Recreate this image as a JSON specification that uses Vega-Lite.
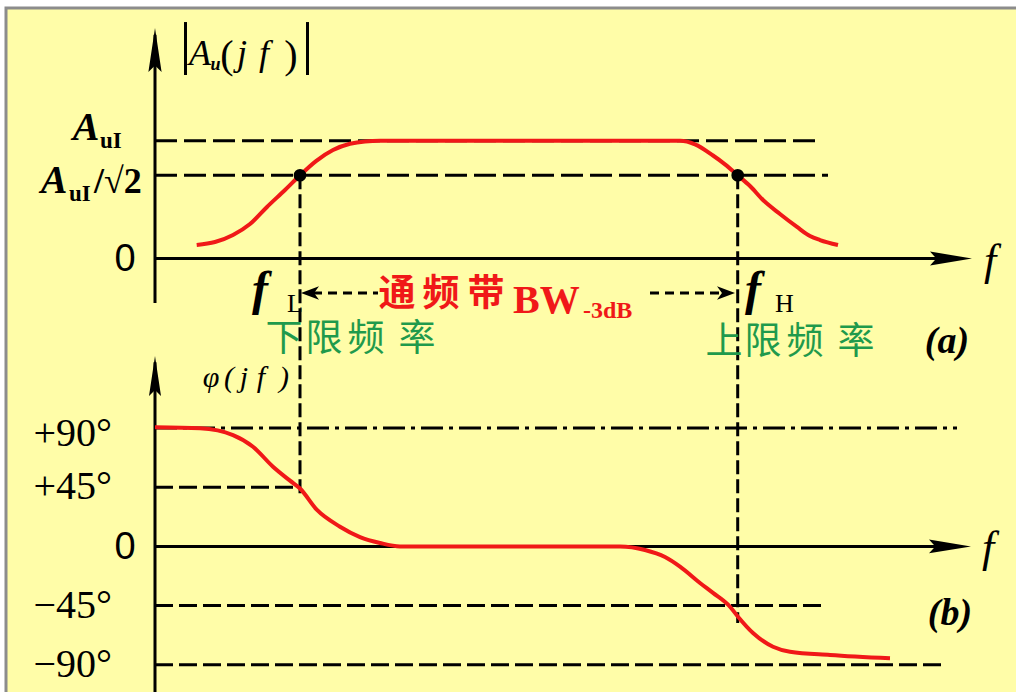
{
  "$schema": "https://vega.github.io/schema/vega-lite/v6.json",
  "width": 1013,
  "height": 687,
  "autosize": {"type": "none"},
  "padding": {"left": 6, "top": 8, "right": 0, "bottom": 0},
  "background": "#ffffff",
  "config": {"view": {"fill": "#FFFDA8", "stroke": "#8c8c8c", "strokeWidth": 3}},
  "resolve": {"scale": {"y": "independent"}},
  "layer": [
    {
      "encoding": {
        "x": {"field": "u", "type": "quantitative", "scale": {"domain": [-14.9, 86.4], "nice": false, "zero": false}, "axis": null},
        "y": {"field": "g", "type": "quantitative", "scale": {"domain": [-3.7086, 2.1283], "nice": false, "zero": false}, "axis": null}
      },
      "layer": [
        {
          "data": {"values": [
            {"name": "gain axis", "u": 0, "u2": 0, "g": -0.378, "g2": 1.9},
            {"name": "frequency axis", "u": 0, "u2": 80.5, "g": 0, "g2": 0},
            {"name": "abs left", "u": 3.05, "u2": 3.05, "g": 2.009, "g2": 1.559},
            {"name": "abs right", "u": 15.25, "u2": 15.25, "g": 2.009, "g2": 1.559}
          ]},
          "mark": {"type": "rule", "color": "#000000", "strokeWidth": 3},
          "encoding": {"x2": {"field": "u2"}, "y2": {"field": "g2"}}
        },
        {
          "data": {"values": [
            {"name": "AuI", "u": 0, "u2": 66.5, "g": 1, "g2": 1},
            {"name": "AuI/sqrt2", "u": 0, "u2": 67.3, "g": 0.707, "g2": 0.707}
          ]},
          "mark": {"type": "rule", "color": "#000000", "strokeWidth": 3, "strokeDash": [22, 7]},
          "encoding": {"x2": {"field": "u2"}, "y2": {"field": "g2"}}
        },
        {
          "data": {"values": [
            {"name": "fL", "u": 14.5, "u2": 14.5, "g": 0.707, "g2": -2.009},
            {"name": "fH", "u": 58.27, "u2": 58.27, "g": 0.707, "g2": -3.097}
          ]},
          "mark": {"type": "rule", "color": "#000000", "strokeWidth": 3, "strokeDash": [14, 5]},
          "encoding": {"x2": {"field": "u2"}, "y2": {"field": "g2"}}
        },
        {
          "data": {"values": [
            {"name": "band left", "u": 15.8, "u2": 22.3, "g": -0.293, "g2": -0.293},
            {"name": "band right", "u": 49.5, "u2": 56.9, "g": -0.293, "g2": -0.293}
          ]},
          "mark": {"type": "rule", "color": "#000000", "strokeWidth": 3, "strokeDash": [9, 6]},
          "encoding": {"x2": {"field": "u2"}, "y2": {"field": "g2"}}
        },
        {
          "data": {"values": [
            {"u": 4.17, "g": 0.115}, {"u": 6.0, "g": 0.14}, {"u": 7.8, "g": 0.2}, {"u": 9.5, "g": 0.293},
            {"u": 11.2, "g": 0.438}, {"u": 13.0, "g": 0.582}, {"u": 14.5, "g": 0.707}, {"u": 16.1, "g": 0.828},
            {"u": 17.8, "g": 0.922}, {"u": 19.5, "g": 0.975}, {"u": 21.0, "g": 0.995}, {"u": 22.5, "g": 1.0},
            {"u": 52.5, "g": 1.0}, {"u": 54.0, "g": 0.97}, {"u": 55.8, "g": 0.875}, {"u": 57.0, "g": 0.8},
            {"u": 58.27, "g": 0.707}, {"u": 59.5, "g": 0.616}, {"u": 60.8, "g": 0.497}, {"u": 62.5, "g": 0.378},
            {"u": 64.2, "g": 0.268}, {"u": 65.5, "g": 0.191}, {"u": 66.5, "g": 0.157}, {"u": 68.3, "g": 0.115}
          ]},
          "mark": {"type": "line", "color": "#F01818", "strokeWidth": 4, "interpolate": "monotone"}
        },
        {
          "data": {"values": [{"u": 14.5, "g": 0.707}, {"u": 58.27, "g": 0.707}]},
          "mark": {"type": "circle", "color": "#000000", "size": 160, "opacity": 1}
        },
        {
          "data": {"values": [{"u": 0, "g": 1.771}]},
          "mark": {"type": "point", "shape": "M0,-1L0.3,1L0,0.7L-0.3,1Z", "size": 1936, "filled": true, "color": "#000000", "opacity": 1, "strokeWidth": 0}
        },
        {
          "data": {"values": [{"u": 79.6, "g": 0}]},
          "mark": {"type": "point", "shape": "M1,0L-1,-0.33L-0.7,0L-1,0.33Z", "size": 1764, "filled": true, "color": "#000000", "opacity": 1, "strokeWidth": 0}
        },
        {
          "data": {"values": [{"u": 15.5, "g": -0.293}]},
          "mark": {"type": "point", "shape": "M-1,0L1,-0.75L0.45,0L1,0.75Z", "size": 324, "filled": true, "color": "#000000", "opacity": 1, "strokeWidth": 0}
        },
        {
          "data": {"values": [{"u": 57.1, "g": -0.293}]},
          "mark": {"type": "point", "shape": "M1,0L-1,-0.75L-0.45,0L-1,0.75Z", "size": 324, "filled": true, "color": "#000000", "opacity": 1, "strokeWidth": 0}
        },
        {
          "data": {"values": [{"t": "A", "u": 4.5, "g": 1.644}, {"t": "j", "u": 8.7, "g": 1.644}, {"t": "f", "u": 10.9, "g": 1.644}]},
          "mark": {"type": "text", "font": "Liberation Serif", "fontSize": 36, "fontStyle": "italic", "align": "center", "baseline": "alphabetic", "color": "#000000"},
          "encoding": {"text": {"field": "t"}}
        },
        {
          "data": {"values": [{"t": "(", "u": 7.2, "g": 1.62}, {"t": ")", "u": 13.6, "g": 1.62}]},
          "mark": {"type": "text", "font": "Liberation Serif", "fontSize": 40, "align": "center", "baseline": "alphabetic", "color": "#000000"},
          "encoding": {"text": {"field": "t"}}
        },
        {
          "data": {"values": [{"t": "u", "u": 5.55, "g": 1.6}]},
          "mark": {"type": "text", "font": "Liberation Serif", "fontSize": 18, "fontStyle": "italic", "fontWeight": "bold", "align": "left", "baseline": "alphabetic", "color": "#000000"},
          "encoding": {"text": {"field": "t"}}
        },
        {
          "data": {"values": [{"t": "A", "u": -6.9, "g": 1.007}, {"t": "A", "u": -10.1, "g": 0.556}]},
          "mark": {"type": "text", "font": "Liberation Serif", "fontSize": 40, "fontStyle": "italic", "fontWeight": "bold", "align": "center", "baseline": "alphabetic", "color": "#000000"},
          "encoding": {"text": {"field": "t"}}
        },
        {
          "data": {"values": [{"t": "uI", "u": -5.5, "g": 0.939}, {"t": "uI", "u": -8.6, "g": 0.489}]},
          "mark": {"type": "text", "font": "Liberation Serif", "fontSize": 23, "fontWeight": "bold", "align": "left", "baseline": "alphabetic", "color": "#000000"},
          "encoding": {"text": {"field": "t"}}
        },
        {
          "data": {"values": [{"t": "/√2", "u": -6.1, "g": 0.556}]},
          "mark": {"type": "text", "font": "Liberation Serif", "fontSize": 36, "fontWeight": "bold", "align": "left", "baseline": "alphabetic", "color": "#000000"},
          "encoding": {"text": {"field": "t"}}
        },
        {
          "data": {"values": [{"t": "0", "u": -3.0, "g": -0.013}]},
          "mark": {"type": "text", "font": "Liberation Sans", "fontSize": 38, "align": "center", "baseline": "middle", "color": "#000000"},
          "encoding": {"text": {"field": "t"}}
        },
        {
          "data": {"values": [{"t": "f", "u": 83.5, "g": -0.14}]},
          "mark": {"type": "text", "font": "Liberation Serif", "fontSize": 44, "fontStyle": "italic", "align": "center", "baseline": "alphabetic", "color": "#000000"},
          "encoding": {"text": {"field": "t"}}
        },
        {
          "data": {"values": [{"t": "f", "u": 10.5, "g": -0.395}, {"t": "f", "u": 59.8, "g": -0.395}]},
          "mark": {"type": "text", "font": "Liberation Serif", "fontSize": 48, "fontStyle": "italic", "fontWeight": "bold", "align": "center", "baseline": "alphabetic", "color": "#000000"},
          "encoding": {"text": {"field": "t"}}
        },
        {
          "data": {"values": [{"t": "L", "u": 13.2, "g": -0.455}, {"t": "H", "u": 62.0, "g": -0.455}]},
          "mark": {"type": "text", "font": "Liberation Serif", "fontSize": 26, "align": "left", "baseline": "alphabetic", "color": "#000000"},
          "encoding": {"text": {"field": "t"}}
        },
        {
          "data": {"values": [{"t": "通", "u": 24.2, "g": -0.31}, {"t": "频", "u": 28.6, "g": -0.31}, {"t": "带", "u": 33.1, "g": -0.31}]},
          "mark": {"type": "text", "font": "Noto Sans CJK SC", "fontSize": 37, "fontWeight": "bold", "align": "center", "baseline": "middle", "color": "#F01818"},
          "encoding": {"text": {"field": "t"}}
        },
        {
          "data": {"values": [{"t": "BW", "u": 35.8, "g": -0.463}]},
          "mark": {"type": "text", "font": "Liberation Serif", "fontSize": 40, "fontWeight": "bold", "align": "left", "baseline": "alphabetic", "color": "#F01818"},
          "encoding": {"text": {"field": "t"}}
        },
        {
          "data": {"values": [{"t": "-3dB", "u": 42.8, "g": -0.506}]},
          "mark": {"type": "text", "font": "Liberation Serif", "fontSize": 24, "fontWeight": "bold", "align": "left", "baseline": "alphabetic", "color": "#F01818"},
          "encoding": {"text": {"field": "t"}}
        },
        {
          "data": {"values": [
            {"t": "下", "u": 12.9, "g": -0.69}, {"t": "限", "u": 16.9, "g": -0.69}, {"t": "频", "u": 21.1, "g": -0.69}, {"t": "率", "u": 26.2, "g": -0.69},
            {"t": "上", "u": 56.9, "g": -0.715}, {"t": "限", "u": 60.8, "g": -0.715}, {"t": "频", "u": 65.0, "g": -0.715}, {"t": "率", "u": 70.1, "g": -0.715}
          ]},
          "mark": {"type": "text", "font": "Noto Sans CJK SC", "fontSize": 37, "align": "center", "baseline": "middle", "color": "#1F9A4C"},
          "encoding": {"text": {"field": "t"}}
        },
        {
          "data": {"values": [{"t": "(a)", "u": 79.2, "g": -0.803}]},
          "mark": {"type": "text", "font": "Liberation Serif", "fontSize": 38, "fontStyle": "italic", "fontWeight": "bold", "align": "center", "baseline": "alphabetic", "color": "#000000"},
          "encoding": {"text": {"field": "t"}}
        }
      ]
    },
    {
      "encoding": {
        "x": {"field": "u", "type": "quantitative", "scale": {"domain": [-14.9, 86.4], "nice": false, "zero": false}, "axis": null},
        "y": {"field": "p", "type": "quantitative", "scale": {"domain": [-113.03, 409.52], "nice": false, "zero": false}, "axis": null}
      },
      "layer": [
        {
          "data": {"values": [
            {"name": "phase axis", "u": 0, "u2": 0, "p": -113, "p2": 140},
            {"name": "frequency axis", "u": 0, "u2": 80.5, "p": 0, "p2": 0}
          ]},
          "mark": {"type": "rule", "color": "#000000", "strokeWidth": 3},
          "encoding": {"x2": {"field": "u2"}, "y2": {"field": "p2"}}
        },
        {
          "data": {"values": [{"name": "+90", "u": 0, "u2": 80.2, "p": 90, "p2": 90}]},
          "mark": {"type": "rule", "color": "#000000", "strokeWidth": 3, "strokeDash": [22, 6, 4, 6]},
          "encoding": {"x2": {"field": "u2"}, "y2": {"field": "p2"}}
        },
        {
          "data": {"values": [
            {"name": "+45", "u": 0, "u2": 14.5, "p": 45, "p2": 45},
            {"name": "-45", "u": 0, "u2": 67.2, "p": -45, "p2": -45},
            {"name": "-90", "u": 0, "u2": 78.8, "p": -90, "p2": -90}
          ]},
          "mark": {"type": "rule", "color": "#000000", "strokeWidth": 3, "strokeDash": [18, 6]},
          "encoding": {"x2": {"field": "u2"}, "y2": {"field": "p2"}}
        },
        {
          "data": {"values": [
            {"u": 0, "p": 90.6}, {"u": 4.5, "p": 89.8}, {"u": 7.8, "p": 84.7}, {"u": 9.8, "p": 75.8},
            {"u": 11.8, "p": 60.6}, {"u": 13.5, "p": 50.0}, {"u": 14.5, "p": 44.0}, {"u": 16.2, "p": 27.7},
            {"u": 18.5, "p": 15.0}, {"u": 20.5, "p": 7.1}, {"u": 22.5, "p": 2.6}, {"u": 24.5, "p": 0},
            {"u": 46.5, "p": 0}, {"u": 49.0, "p": -2.7}, {"u": 51.0, "p": -8.1}, {"u": 52.5, "p": -15.4},
            {"u": 54.5, "p": -27.8}, {"u": 55.8, "p": -35.4}, {"u": 57.5, "p": -45.9}, {"u": 58.3, "p": -53.5},
            {"u": 59.8, "p": -65.9}, {"u": 61.8, "p": -76.3}, {"u": 63.5, "p": -80.1}, {"u": 67.5, "p": -82.6},
            {"u": 73.5, "p": -85.1}
          ]},
          "mark": {"type": "line", "color": "#F01818", "strokeWidth": 4, "interpolate": "monotone"}
        },
        {
          "data": {"values": [{"u": 0, "p": 129.7}]},
          "mark": {"type": "point", "shape": "M0,-1L0.3,1L0,0.7L-0.3,1Z", "size": 1600, "filled": true, "color": "#000000", "opacity": 1, "strokeWidth": 0}
        },
        {
          "data": {"values": [{"u": 79.5, "p": 0}]},
          "mark": {"type": "point", "shape": "M1,0L-1,-0.33L-0.7,0L-1,0.33Z", "size": 1764, "filled": true, "color": "#000000", "opacity": 1, "strokeWidth": 0}
        },
        {
          "data": {"values": [
            {"t": "φ", "u": 5.6, "p": 121.5}, {"t": "(", "u": 7.4, "p": 121.5}, {"t": "j", "u": 8.9, "p": 121.5},
            {"t": "f", "u": 10.6, "p": 121.5}, {"t": ")", "u": 12.9, "p": 121.5}
          ]},
          "mark": {"type": "text", "font": "Liberation Serif", "fontSize": 30, "fontStyle": "italic", "align": "center", "baseline": "alphabetic", "color": "#000000"},
          "encoding": {"text": {"field": "t"}}
        },
        {
          "data": {"values": [
            {"t": "+90°", "u": -4.3, "p": 85.5}, {"t": "+45°", "u": -4.3, "p": 45.2},
            {"t": "−45°", "u": -4.3, "p": -45.3}, {"t": "−90°", "u": -4.3, "p": -90.1}
          ]},
          "mark": {"type": "text", "font": "Liberation Serif", "fontSize": 40, "align": "right", "baseline": "middle", "color": "#000000"},
          "encoding": {"text": {"field": "t"}}
        },
        {
          "data": {"values": [{"t": "0", "u": -3.0, "p": -1.2}]},
          "mark": {"type": "text", "font": "Liberation Sans", "fontSize": 38, "align": "center", "baseline": "middle", "color": "#000000"},
          "encoding": {"text": {"field": "t"}}
        },
        {
          "data": {"values": [{"t": "f", "u": 83.3, "p": -11.9}]},
          "mark": {"type": "text", "font": "Liberation Serif", "fontSize": 44, "fontStyle": "italic", "align": "center", "baseline": "alphabetic", "color": "#000000"},
          "encoding": {"text": {"field": "t"}}
        },
        {
          "data": {"values": [{"t": "(b)", "u": 79.5, "p": -59.8}]},
          "mark": {"type": "text", "font": "Liberation Serif", "fontSize": 38, "fontStyle": "italic", "fontWeight": "bold", "align": "center", "baseline": "alphabetic", "color": "#000000"},
          "encoding": {"text": {"field": "t"}}
        }
      ]
    }
  ]
}
